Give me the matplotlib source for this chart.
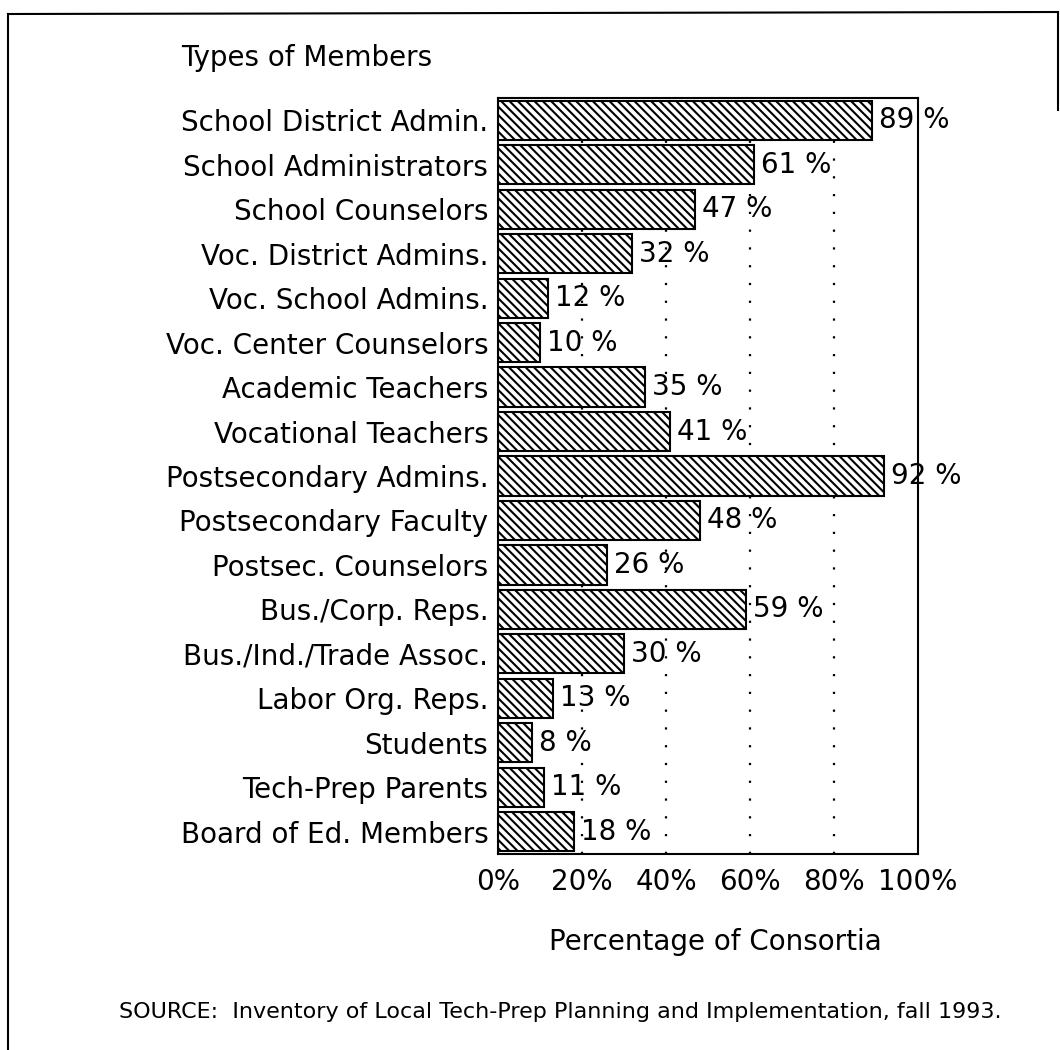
import matplotlib
matplotlib.use("Agg")
import matplotlib.pyplot as plt
from matplotlib.lines import Line2D

categories = [
    "School District Admin.", "School Administrators", "School Counselors",
    "Voc. District Admins.", "Voc. School Admins.", "Voc. Center Counselors",
    "Academic Teachers", "Vocational Teachers", "Postsecondary Admins.",
    "Postsecondary Faculty", "Postsec. Counselors", "Bus./Corp. Reps.",
    "Bus./Ind./Trade Assoc.", "Labor Org. Reps.", "Students",
    "Tech-Prep Parents", "Board of Ed. Members",
]
values = [89, 61, 47, 32, 12, 10, 35, 41, 92, 48, 26, 59, 30, 13, 8, 11, 18]
xticks = [0, 20, 40, 60, 80, 100]
xticklabels = ["0%", "20%", "40%", "60%", "80%", "100%"]
gridlines = [20, 40, 60, 80]

plt.rcParams['font.family'] = ['DejaVu Sans']
plt.rcParams['hatch.linewidth'] = 1.5

FS = 20

fig = plt.figure(figsize=(10.6, 10.5), dpi=100)
ax = fig.add_axes([498/1060, 1 - 854/1050, 420/1060, 756/1050])

n = len(categories)
ypos = list(range(n - 1, -1, -1))

for g in gridlines:
    ax.axvline(g, color='black', linestyle=(0, (1, 7)), linewidth=1.6, zorder=1)

ax.barh(ypos, values, height=0.88, color='white', edgecolor='black',
        linewidth=1.5, hatch='\\\\\\\\', zorder=2)

for y, v in zip(ypos, values):
    ax.annotate(f"{v} %", xy=(v, y), xytext=(5, 0), textcoords='offset points',
                ha='left', va='center', fontsize=FS, zorder=3)

ax.set_xlim(0, 100)
ax.set_ylim(-0.5, n - 0.5)
ax.set_yticks(ypos)
ax.set_yticklabels(categories, fontsize=FS)
ax.set_xticks(xticks)
ax.set_xticklabels(xticklabels, fontsize=FS)
ax.tick_params(axis='both', length=0)
ax.tick_params(axis='y', pad=7)
ax.tick_params(axis='x', pad=10)
for s in ax.spines.values():
    s.set_linewidth(1.5)

fig.text(181/1060, 1 - 58/1050, "Types of Members", fontsize=FS,
         ha='left', va='center')
fig.text(715/1060, 1 - 942/1050, "Percentage of Consortia", fontsize=FS,
         ha='center', va='center')
fig.text(560/1060, 1 - 1012/1050,
         "SOURCE:  Inventory of Local Tech-Prep Planning and Implementation, fall 1993.",
         fontsize=16, ha='center', va='center')

# outer frame
fig.add_artist(Line2D([8/1060, 8/1060], [0, 1 - 14/1050], color='black', lw=1.5,
                      transform=fig.transFigure))
fig.add_artist(Line2D([8/1060, 1058/1060], [1 - 14/1050, 1 - 12/1050], color='black',
                      lw=1.5, transform=fig.transFigure))
fig.add_artist(Line2D([1058/1060, 1058/1060], [1 - 12/1050, 1 - 110/1050], color='black',
                      lw=1.5, transform=fig.transFigure))

fig.savefig("out.png", dpi=100)
